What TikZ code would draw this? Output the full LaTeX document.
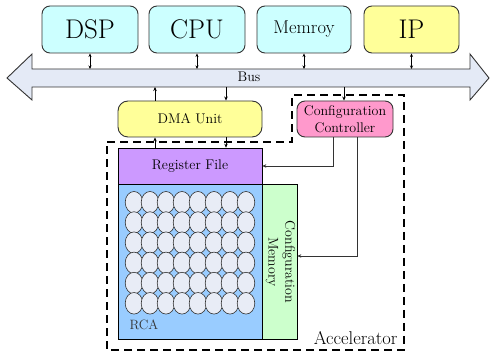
\documentclass[tikz,border=0pt]{standalone}
\usetikzlibrary{arrows.meta,shapes.geometric}
\definecolor{cyanL}{HTML}{CCFFFF}
\definecolor{yellowL}{HTML}{FFFF99}
\definecolor{pinkL}{HTML}{FF99CC}
\definecolor{purpleL}{HTML}{CC99FF}
\definecolor{blueL}{HTML}{99CCFF}
\definecolor{greenL}{HTML}{CCFFCC}
\definecolor{busfill}{HTML}{E4EAF6}
\definecolor{cellfill}{HTML}{E8ECF6}
\definecolor{edge}{HTML}{333333}
\newcommand\fsz[1]{\rmfamily\fontsize{#1}{1.2\dimexpr#1pt\relax}\selectfont}
\begin{document}
\begin{tikzpicture}[x=1pt,y=-1pt,
  topbox/.style={draw=edge, line width=0.9pt, rounded corners=8pt, minimum height=47pt, inner sep=0pt},
  unitbox/.style={draw=edge, line width=0.9pt, rounded corners=10pt, minimum width=144pt, minimum height=36pt, inner sep=0pt, font=\fsz{14}},
  plainbox/.style={draw=black, line width=0.7pt, inner sep=0pt},
  busarrow/.style={{Stealth[length=3.5pt,width=3pt]}-{Stealth[length=3.5pt,width=3pt]}, line width=0.6pt},
  onearrow/.style={-{Stealth[length=4pt,width=3.5pt]}, line width=0.6pt},
  cell/.style={draw=edge, fill=cellfill, line width=0.6pt, ellipse, minimum width=17.6pt, minimum height=21.6pt, inner sep=0pt}
]
\useasboundingbox (0,0) rectangle (491,355);

% system bus
\draw[draw=edge, fill=busfill, line width=0.9pt]
  (7,78) -- (32,54) -- (32,69) -- (470,69) -- (470,54) -- (489,78)
  -- (470,100) -- (470,87) -- (32,87) -- (32,100) -- cycle;
\coordinate (bustop) at (0,69);
\coordinate (busbot) at (0,87);
\node[font=\fsz{14}] (bus) at (249,77) {Bus};

% processors and memory on the bus
\node[topbox, fill=cyanL, minimum width=96pt, font=\fsz{27}] (dsp) at (90,29.5) {DSP};
\node[topbox, fill=cyanL, minimum width=96pt, font=\fsz{27}] (cpu) at (197,29.5) {CPU};
\node[topbox, fill=cyanL, minimum width=94pt, font=\fsz{18.5}] (mem) at (304,29.5) {Memroy};
\node[topbox, fill=yellowL, minimum width=95pt, font=\fsz{27}] (ip) at (411.5,29.5) {IP};

\foreach \n in {dsp,cpu,mem,ip}
  \draw[busarrow] (\n.south) -- (\n.south |- bustop);

% accelerator boundary
\draw[line width=1.6pt, dash pattern=on 8pt off 5pt]
  (107,142) -- (292,142) -- (292,95) -- (404,95) -- (404,350) -- (107,350) -- cycle;
\node[anchor=base east, font=\fsz{18.5}] (acc) at (401,345) {Accelerator};

% DMA and configuration controller
\node[unitbox, fill=yellowL] (dma) at (190,119) {DMA Unit};
\node[unitbox, fill=pinkL, rounded corners=8pt, minimum width=96pt, align=center] (cc) at (345,119) {Configuration\\Controller};

% register file, array and configuration memory
\node[plainbox, fill=purpleL, minimum width=144pt, minimum height=36pt, font=\fsz{14}] (rf) at (190,166) {Register File};
\node[plainbox, fill=blueL, minimum width=144pt, minimum height=155pt] (rca) at (190,261.5) {};
\node[anchor=base west, text=edge, font=\fsz{13.5}] (rcalabel) at (126,330) {RCA};
\node[plainbox, fill=greenL, minimum width=35pt, minimum height=155pt] (cm) at (279.5,261.5) {};
\node[rotate=-90, align=center, font=\fsz{14}] (cmlabel) at (280.5,262) {Configuration\\Memory};

% processing elements
\foreach \i in {0,...,7}
  \foreach \j in {0,...,5}
    \node[cell] (pe\i\j) at ({134+16*\i},{202.3+20.2*\j}) {};

% data and control paths
\draw[onearrow] ([xshift=-35pt]dma.north) -- ([xshift=-35pt]dma.north |- busbot);
\draw[onearrow] ([xshift=36pt]dma.north |- busbot) -- ([xshift=36pt]dma.north);
\draw[onearrow] ([xshift=-1pt]cc.north |- busbot) -- ([xshift=-1pt]cc.north);
\draw[onearrow] ([xshift=-35pt]rf.north) -- ([xshift=-35pt]dma.south);
\draw[onearrow] ([xshift=36pt]dma.south) -- ([xshift=36pt]rf.north);
\draw[onearrow, draw=edge] ([xshift=-12pt]cc.south) |- (rf.east);
\draw[onearrow, draw=edge] ([xshift=12pt]cc.south) |- ([yshift=5.5pt]cm.east);
\end{tikzpicture}
\end{document}
